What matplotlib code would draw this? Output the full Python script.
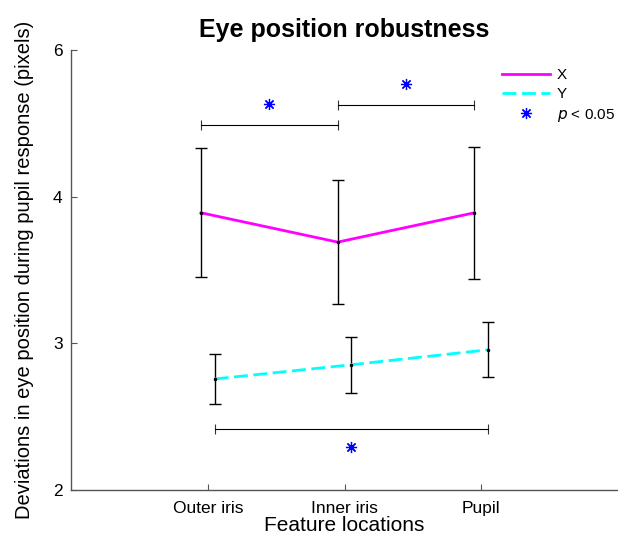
import numpy as np
import matplotlib
matplotlib.use('Agg')
import matplotlib.pyplot as plt

plt.rcParams['font.family'] = ['Liberation Sans', 'DejaVu Sans']

categories = ['Outer iris', 'Inner iris', 'Pupil']
x_mean = [3.89, 3.69, 3.89]
x_err = [0.44, 0.42, 0.45]
y_mean = [2.757, 2.854, 2.956]
y_err = [0.168, 0.19, 0.187]

# significance brackets: (start, end, bracket level, star level)
brackets = [(0.95, 1.95, 4.488, 4.63),
            (1.95, 2.95, 4.626, 4.77),
            (1.05, 3.05, 2.418, 2.29)]
star_x = [1.45, 2.45, 2.05]

ytick_vals = [2, 3, 4, 5]
ytick_labels = ['2', '3', '4', '6']

pos = np.arange(1, len(categories) + 1)
off = 0.05

fig = plt.figure(figsize=(6.18, 5.37), dpi=100)
ax = fig.add_axes([0.115, 0.0875, 0.885, 0.8195])

axcol = '#555555'

ax.errorbar(pos - off, x_mean, yerr=x_err, fmt='none', ecolor='black',
            elinewidth=1, capsize=4, capthick=1, zorder=2)
ax.errorbar(pos + off, y_mean, yerr=y_err, fmt='none', ecolor='black',
            elinewidth=1, capsize=4, capthick=1, zorder=2)
lx, = ax.plot(pos - off, x_mean, color='#ff00ff', lw=2, zorder=3, label='X')
ly, = ax.plot(pos + off, y_mean, color='#00ffff', lw=2, ls=(0, (5, 2)),
              zorder=3, label='Y')
ax.plot(pos - off, x_mean, 'k.', ms=3, zorder=4)
ax.plot(pos + off, y_mean, 'k.', ms=3, zorder=4)

star = (8, 2, 0)
for (x0, x1, yb, ys), sx in zip(brackets, star_x):
    ax.errorbar([x0, x1], [yb, yb], yerr=0.035, fmt='none', ecolor='#333333',
                elinewidth=0.8)
    ax.plot([x0, x1], [yb, yb], color='black', lw=0.8)
    ax.plot(sx, ys, marker=star, color='blue', ms=8, mew=0.9, ls='none')

ls, = ax.plot([], [], marker=star, color='blue', ms=8, mew=0.9, ls='none',
              label='$p$ < 0.05')

ax.set_xlim(0, 4)
ax.set_ylim(2, 5)
ax.set_xticks(pos)
ax.set_xticklabels(categories, fontsize=12.5)
ax.set_yticks(ytick_vals)
ax.set_yticklabels(ytick_labels, fontsize=12.5)
ax.tick_params(direction='in', length=4, color=axcol)
ax.tick_params(axis='x', pad=8)
ax.tick_params(axis='y', pad=6)
for s in ['top', 'right']:
    ax.spines[s].set_visible(False)
for s in ['left', 'bottom']:
    ax.spines[s].set_color(axcol)
    ax.spines[s].set_linewidth(1)

ax.set_xlabel('Feature locations', fontsize=15, labelpad=0)
ax.set_ylabel('Deviations in eye position during pupil response (pixels)',
              fontsize=14.5, labelpad=14)
ax.set_title('Eye position robustness', fontsize=18, fontweight='bold', pad=9)

ax.legend(handles=[lx, ly, ls], loc='upper left', frameon=False,
          bbox_to_anchor=(0.762, 0.99), fontsize=11, handlelength=3.2,
          labelspacing=0.35, handletextpad=0.4)

fig.savefig('out.png', dpi=100)
